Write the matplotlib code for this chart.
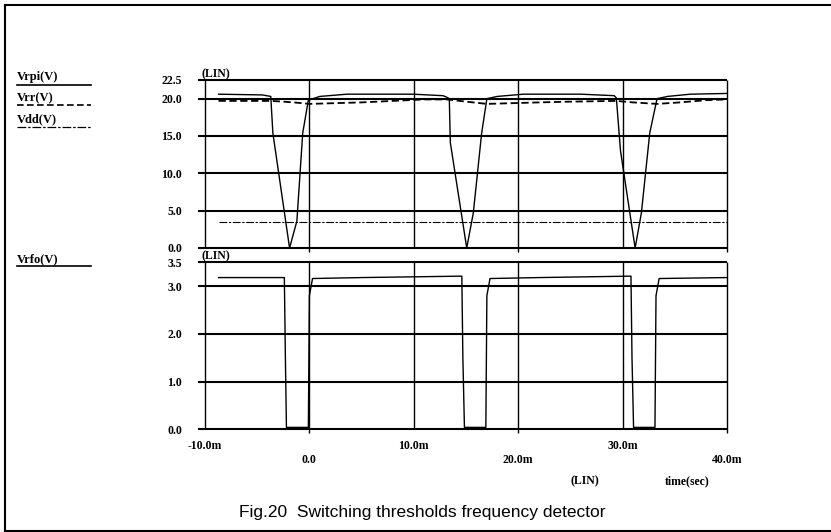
import matplotlib
matplotlib.use('Agg')
import matplotlib.pyplot as plt
from matplotlib.lines import Line2D
from matplotlib.ticker import FixedLocator

# time axis in ms
vrpi_t = [-8.7, -4.5, -3.7, -3.5, -1.9, -1.2, -0.64, -0.1, 1.0, 3.6, 9.9, 12.8,
          13.15, 13.4, 13.5, 15.07, 15.7, 16.5, 17.0, 18.0, 20.5, 26.0, 29.2,
          29.4, 29.8, 31.2, 31.8, 32.6, 33.3, 34.3, 36.5, 40.0]
vrpi_v = [20.6, 20.5, 20.3, 15.4, 0.0, 3.6, 15.4, 19.8, 20.3, 20.6, 20.6, 20.4,
          20.2, 20.0, 14.1, 0.0, 4.7, 15.4, 20.0, 20.3, 20.6, 20.6, 20.4,
          20.1, 13.0, 0.0, 4.7, 15.4, 20.0, 20.3, 20.6, 20.7]

vrr_t = [-8.7, -3.6, -1.5, 0.0, 2.5, 5.0, 8.0, 11.0, 13.2, 15.0, 17.0, 19.5,
         22.0, 25.0, 29.4, 31.0, 33.3, 35.5, 38.0, 40.0]
vrr_v = [19.7, 19.7, 19.5, 19.3, 19.4, 19.5, 19.7, 19.9, 19.9, 19.6, 19.3, 19.4,
         19.5, 19.6, 19.7, 19.5, 19.3, 19.5, 19.8, 19.9]

vdd_t = [-8.7, 40.0]
vdd_v = [3.45, 3.45]

vrfo_t = [-8.7, -2.4, -2.3, -2.2, -0.1, 0.0, 0.3, 5.0, 14.6, 14.7, 14.85, 16.9,
          17.0, 17.3, 22.0, 30.8, 30.9, 31.05, 33.1, 33.2, 33.5, 40.0]
vrfo_v = [3.18, 3.18, 1.5, 0.04, 0.04, 2.8, 3.16, 3.18, 3.21, 1.5, 0.04, 0.04,
          2.8, 3.16, 3.18, 3.21, 1.5, 0.04, 0.04, 2.8, 3.16, 3.18]

upper_ticks = [0.0, 5.0, 10.0, 15.0, 20.0, 22.5]
lower_ticks = [0.0, 1.0, 2.0, 3.0, 3.5]
x_major = [-10, 10, 30]
x_minor = [0, 20, 40]
x_major_labels = ['-10.0m', '10.0m', '30.0m']
x_minor_labels = ['0.0', '20.0m', '40.0m']

serif = 'Liberation Serif'
tick_fs = 8.5

fig = plt.figure(figsize=(8.31, 5.32), dpi=100)
W, H = 831, 532


def px_axes(x0, y0, x1, y1):
    return fig.add_axes([x0 / W, 1 - y1 / H, (x1 - x0) / W, (y1 - y0) / H])


ax1 = px_axes(205, 80, 727, 248)
ax2 = px_axes(205, 262.3, 727, 429.3)


def frame(ax, ticks, top):
    ax.set_xlim(-10, 40)
    ax.set_ylim(0, top)
    for s in ax.spines.values():
        s.set_visible(False)
    ax.set_yticks(ticks)
    ax.set_yticklabels(['%.1f' % t for t in ticks], fontfamily=serif,
                       fontweight='bold', fontsize=tick_fs)
    ax.tick_params(axis='y', length=0, pad=16.5)
    ax.hlines(ticks, -10.67, 40, color='black', lw=1.5, clip_on=False)
    ext = top * 4 / 168
    ax.vlines([-10, 10, 30], 0, top, color='black', lw=1.0, clip_on=False)
    ax.vlines([0, 20, 40], -ext, top, color='black', lw=1.0, clip_on=False)
    ax.text(-10.3, top, '(LIN)', fontfamily=serif, fontweight='bold',
            fontsize=8.5, ha='left', va='bottom')


frame(ax1, upper_ticks, 22.5)
frame(ax2, lower_ticks, 3.5)

ax1.set_xticks([])
ax2.xaxis.set_major_locator(FixedLocator(x_major))
ax2.xaxis.set_minor_locator(FixedLocator(x_minor))
ax2.set_xticklabels(x_major_labels, fontfamily=serif, fontweight='bold', fontsize=tick_fs)
ax2.set_xticklabels(x_minor_labels, minor=True, fontfamily=serif,
                    fontweight='bold', fontsize=tick_fs)
ax2.tick_params(axis='x', which='major', length=0, pad=7.5)
ax2.tick_params(axis='x', which='minor', length=0, pad=17.5)

# signals
ax1.plot(vrpi_t, vrpi_v, color='black', lw=1.0, clip_on=False)
ax1.plot(vrr_t, vrr_v, color='black', lw=1.3, ls=(0, (4, 2)), clip_on=False)
ax1.plot(vdd_t, vdd_v, color='black', lw=0.8, ls=(0, (7, 1.5, 2, 1.5)), clip_on=False)
ax2.plot(vrfo_t, vrfo_v, color='black', lw=1.0, clip_on=False)

# left labels with line samples
labels = [('Vrpi(V)', 77, 84.5, '-', 1.2),
          ('Vrr(V)', 98, 105, (0, (4, 2)), 1.2),
          ('Vdd(V)', 119, 127, (0, (7, 1.5, 2, 1.5)), 0.9),
          ('Vrfo(V)', 259, 266, '-', 1.2)]
for name, ty, ly, ls, lw in labels:
    fig.text(17 / W, 1 - ty / H, name, fontfamily=serif, fontweight='bold',
             fontsize=9, ha='left', va='center')
    fig.add_artist(Line2D([17 / W, 91 / W], [1 - ly / H, 1 - ly / H],
                          transform=fig.transFigure, color='black', lw=lw, ls=ls))

fig.text(585 / W, 1 - 481 / H, '(LIN)', fontfamily=serif, fontweight='bold',
         fontsize=tick_fs, ha='center', va='center')
fig.text(687 / W, 1 - 481 / H, 'time(sec)', fontfamily=serif, fontweight='bold',
         fontsize=tick_fs, ha='center', va='center')

fig.text(422 / W, 1 - 512 / H, 'Fig.20  Switching thresholds frequency detector',
         fontfamily='Liberation Sans', fontsize=12.5, ha='center', va='center')

# page frame
fig.add_artist(Line2D([5 / W, 5 / W], [1 - 531 / H, 1 - 5 / H],
                      transform=fig.transFigure, color='black', lw=1.5))
fig.add_artist(Line2D([5 / W, 1.0], [1 - 5 / H, 1 - 5 / H],
                      transform=fig.transFigure, color='black', lw=1.5))
fig.add_artist(Line2D([5 / W, 1.0], [1 - 531 / H, 1 - 531 / H],
                      transform=fig.transFigure, color='black', lw=1.5))

fig.savefig('out.png', dpi=100)
